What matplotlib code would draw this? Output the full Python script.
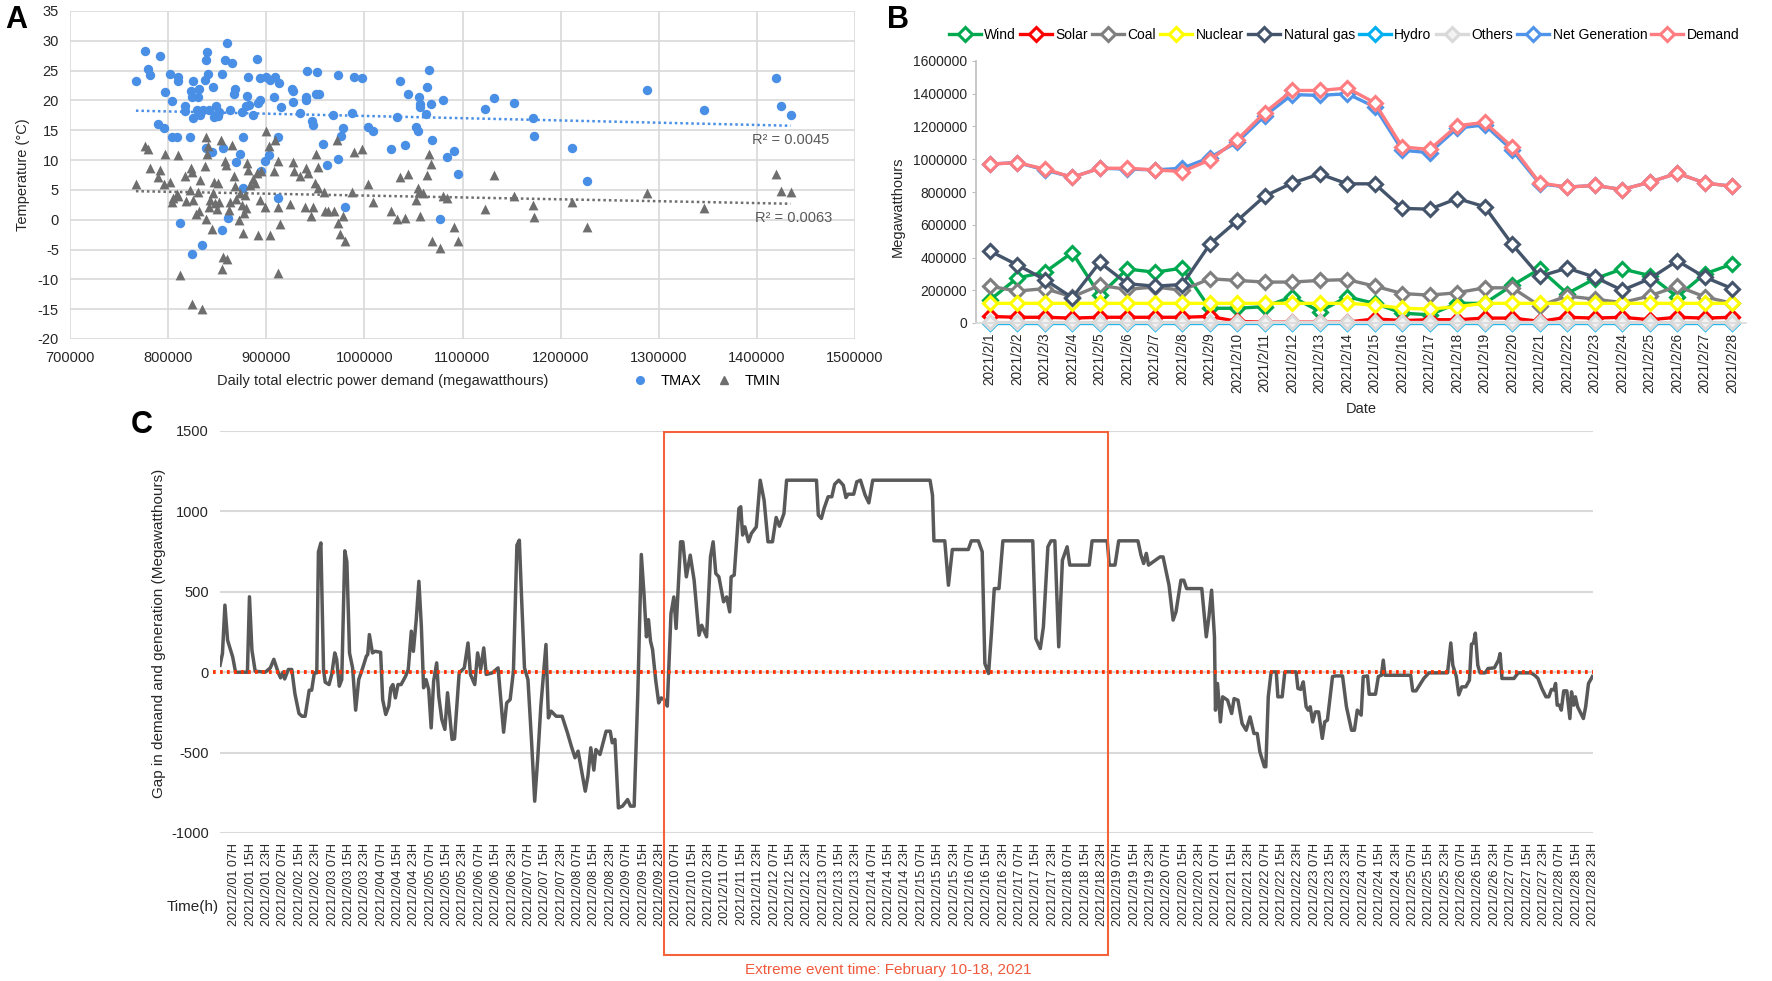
import numpy as np
import matplotlib
matplotlib.use("Agg")
import matplotlib.pyplot as plt
from matplotlib.patches import Rectangle
from matplotlib.lines import Line2D
from matplotlib.transforms import blended_transform_factory

plt.rcParams['font.family'] = ['Liberation Sans', 'DejaVu Sans']
plt.rcParams['axes.unicode_minus'] = False

# ---------------- Panel A data: daily demand vs temperature ----------------
TMAX_DEMAND = [767200, 776500, 779700, 781800, 791700, 796900, 790100, 795800, 802100, 803600,
               804200, 809400, 809900, 810400, 812500, 816700, 817000, 822400, 823400, 823900,
               825000, 825500, 824500, 830200, 831800, 829200, 832800, 834900, 835900, 837500,
               838500, 840100, 840500, 839000, 841700, 844300, 845800, 846400, 848400, 851000,
               852100, 854700, 855200, 856300, 857800, 860400, 860900, 863000, 865600, 867200,
               868200, 868800, 872900, 875500, 876000, 876600, 879700, 880700, 881800, 882300,
               887000, 890100, 891700, 893800, 894800, 894000, 899000, 900000, 902600, 904200,
               907800, 909400, 912000, 912000, 912500, 914600, 926600, 927100, 927600, 933900,
               940100, 941700, 941000, 946900, 947900, 951000, 952100, 953600, 958300, 961500,
               968200, 972900, 973400, 976000, 978100, 980200, 987500, 989100, 997900, 1004200,
               1008300, 1027600, 1032800, 1035900, 1041700, 1044800, 1052600, 1054200, 1055200, 1056300,
               1056800, 1062500, 1063500, 1065600, 1068200, 1069300, 1077100, 1080200, 1083900, 1091100,
               1095300, 1123400, 1132300, 1152600, 1171900, 1172400, 1211500, 1227100, 1288500, 1345800,
               1419800, 1425000, 1434400]
TMAX = [23.2, 28.3, 25.3, 24.3, 27.5, 21.4, 16.0, 15.4, 24.4, 19.9,
        13.8, 13.8, 23.9, 23.3, -0.6, 19.0, 18.2, 13.8, 21.6, 20.5,
        23.2, 17.0, -5.7, 20.5, 22.0, 18.4, 17.6, -4.2, 18.4, 23.5,
        26.7, 28.1, 24.4, 12.0, 18.4, 11.4, 22.2, 17.2, 19.0, 17.4,
        18.1, 24.4, -1.8, 12.0, 26.7, 29.6, 0.3, 18.4, 26.2, 21.0,
        21.9, 9.6, 11.0, 18.0, 5.3, 13.8, 19.0, 20.8, 24.0, 19.3,
        17.6, 27.0, 19.6, 20.1, 8.2, 23.7, 9.9, 24.0, 10.9, 23.4,
        20.5, 23.9, 13.8, 3.7, 23.0, 18.9, 22.0, 19.8, 21.6, 17.9,
        20.6, 25.0, 20.1, 16.5, 15.9, 21.0, 24.7, 21.1, 12.7, 9.1,
        17.6, 24.2, 10.1, 14.0, 15.4, 2.1, 17.9, 24.0, 23.8, 15.6,
        14.8, 11.9, 17.3, 23.3, 12.6, 21.0, 15.5, 14.8, 20.6, 19.4,
        18.9, 17.7, 22.3, 25.1, 19.4, 13.3, 0.1, 20.1, 10.6, 11.5,
        7.6, 18.5, 20.4, 19.5, 17.0, 14.1, 12.1, 6.5, 21.7, 18.4,
        23.8, 19.1, 17.5]

TMIN_DEMAND = [767200, 776500, 779200, 781800, 790100, 791700, 795800, 796400, 802100, 803600,
               805200, 809400, 809900, 810400, 812500, 816700, 818200, 822400, 823400, 824500,
               825000, 824500, 828600, 830200, 831800, 832800, 834400, 837500, 838500, 839000,
               839500, 840600, 841700, 842700, 844300, 845800, 846900, 847900, 849500, 850500,
               852100, 853600, 855200, 856300, 857800, 858900, 860400, 861900, 863000, 865100,
               866700, 867700, 868800, 871900, 872900, 875000, 876600, 877600, 878600, 879700,
               880700, 881800, 883300, 887000, 888500, 890100, 891700, 893200, 894800, 899000,
               900000, 902600, 903600, 907800, 908900, 912000, 912300, 912000, 914100, 924500,
               927100, 928100, 933900, 939600, 940600, 942200, 945300, 947400, 949500, 951000,
               952600, 953100, 958900, 959900, 962500, 969300, 971900, 973400, 975500, 978100,
               980200, 987500, 989100, 997900, 1004200, 1008300, 1027600, 1032800, 1035900, 1041700,
               1044800, 1052600, 1054200, 1055200, 1056300, 1059400, 1063500, 1065600, 1068200, 1069300,
               1077100, 1080200, 1083900, 1091100, 1095300, 1123400, 1132300, 1152600, 1171900, 1172400,
               1211500, 1227100, 1288500, 1345800, 1419800, 1425000, 1434400]
TMIN = [6.0, 12.3, 11.8, 8.6, 7.2, 8.4, 6.0, 11.1, 6.3, 2.9,
        3.7, 4.3, 10.8, 3.9, -9.3, 7.3, 3.2, 5.0, 8.6, 8.0,
        3.3, -14.2, 1.0, 4.7, 1.5, 6.7, -15.0, 9.0, 0.1, 13.8,
        11.0, 12.3, 2.1, 3.3, -1.6, 4.4, 6.3, 2.8, 1.8, 6.2,
        2.9, 13.4, -8.3, -6.3, 9.9, 9.2, -6.6, 1.7, 3.0, 12.5,
        7.3, 5.6, 3.5, 0.0, 4.4, 2.5, -2.3, 1.1, 4.2, 2.0,
        9.5, 8.4, 5.9, 6.8, 6.2, 7.8, -2.6, 3.3, 8.2, 2.1,
        14.9, 12.3, -2.5, 8.2, 13.4, 2.2, 9.9, -8.9, -0.7, 2.6,
        9.6, 8.2, 7.3, 2.1, 8.6, 7.8, 0.6, 2.1, 6.1, 11.1,
        8.9, 5.3, 4.7, 1.4, 1.4, 1.5, 13.4, -0.5, -2.4, 0.6,
        -3.5, 4.7, 11.4, 11.8, 6.0, 3.0, 1.4, 0.1, 7.2, 0.3,
        7.7, 3.3, 5.4, 4.6, 0.6, 4.4, 7.5, 11.1, 9.4, -3.5,
        -4.7, 3.9, 3.6, -1.3, -3.5, 1.8, 7.5, 3.9, 2.5, 0.5,
        2.9, -1.3, 4.4, 2.0, 7.7, 4.9, 4.6]

R2_TMAX = "R\u00b2 = 0.0045"
R2_TMIN = "R\u00b2 = 0.0063"

# ---------------- Panel B data: daily generation by source (Feb 2021) ----------------
DAYS = [f"2021/2/{d}" for d in range(1, 29)]
WIND = [140000, 275000, 310000, 430000, 170000, 330000, 310000, 335000, 90000, 90000,
        100000, 160000, 70000, 160000, 120000, 60000, 50000, 120000, 120000, 230000,
        330000, 180000, 270000, 330000, 290000, 160000, 300000, 360000]
SOLAR = [40000, 35000, 35000, 30000, 35000, 35000, 35000, 35000, 40000, 10000,
         5000, 5000, 5000, 5000, 25000, 15000, 20000, 20000, 30000, 30000,
         10000, 35000, 30000, 35000, 20000, 35000, 30000, 35000]
COAL = [225000, 195000, 210000, 160000, 230000, 205000, 220000, 200000, 270000, 260000,
        250000, 250000, 260000, 265000, 225000, 180000, 170000, 185000, 215000, 215000,
        105000, 165000, 145000, 125000, 165000, 225000, 160000, 120000]
NUCLEAR = [120000, 120000, 120000, 120000, 120000, 120000, 120000, 120000, 120000, 120000,
           120000, 120000, 120000, 120000, 110000, 90000, 85000, 100000, 120000, 120000,
           120000, 120000, 120000, 120000, 120000, 120000, 120000, 120000]
NATURAL_GAS = [440000, 355000, 265000, 155000, 370000, 240000, 225000, 235000, 480000, 625000,
               775000, 855000, 910000, 850000, 850000, 700000, 695000, 760000, 710000, 480000,
               285000, 335000, 280000, 200000, 270000, 380000, 280000, 210000]
HYDRO = [3000] * 28
OTHERS = [6000] * 28
NET_GENERATION = [970000, 980000, 935000, 890000, 945000, 940000, 935000, 945000, 1010000, 1105000,
                  1265000, 1395000, 1390000, 1400000, 1320000, 1055000, 1040000, 1190000, 1210000, 1055000,
                  850000, 830000, 840000, 815000, 860000, 915000, 855000, 835000]
DEMAND = [970000, 980000, 940000, 890000, 945000, 945000, 935000, 925000, 995000, 1120000,
          1285000, 1420000, 1420000, 1435000, 1345000, 1075000, 1060000, 1205000, 1225000, 1075000,
          855000, 830000, 840000, 815000, 860000, 915000, 855000, 835000]

# ---------------- Panel C data: hourly gap (hour 0 = 2021/2/01 00H) ----------------
GAP_HOURS = [0, 1.2, 2.4, 3.7, 6.2, 7.6, 13.4, 14.4, 15.6, 17.2, 22.1, 24.6, 26.3, 28.4, 29.6, 30.8,
             31.6, 33.4, 35.1, 36.6, 38.6, 40.1, 41.6, 43.6, 44.8, 46.1, 47.3, 48.1, 49.3, 50.6, 51.4,
             53.3, 54.6, 56.1, 57, 58.3, 59.5, 61, 62, 63.3, 64.8, 66.3, 67.8, 70, 71.5, 72.2, 73,
             74.5, 75.8, 78.5, 79.5, 81, 82.5, 83.5, 84.5, 85.7, 87, 88.5, 90.7, 92, 93.5, 94.5, 95.9,
             97.2, 98.4, 99.5, 100.7, 102, 103.2, 104.4, 105.9, 106.9, 108.4, 109.9, 111.2, 113.4,
             114.6, 116.9, 119.4, 121.2, 122.4, 124.5, 125.9, 127.4, 128.9, 130.1, 133.1, 135.9,
             137.1, 138.6, 140.1, 141.8, 143.4, 145.1, 146.3, 147.3, 148.8, 150.5, 152.3, 153.8,
             155.3, 156.8, 159.3, 160.5, 161.8, 164.3, 167.2, 169.8, 171.7, 173.5, 175, 176.3,
             178.5, 179.8, 181.2, 182.7, 183.7, 185.7, 188.7, 190.7, 191.7, 193, 194.7, 196.7,
             199.2, 200.6, 202.4, 204.2, 205.9, 207.2, 208.4, 209.4, 210.4, 211.4, 212.9, 214.4,
             215.6, 217.1, 218.6,
             220.4, 221.8, 222.9, 225.1, 226.2, 227.9, 229.8, 231.7, 234.1, 235.4, 237.8, 239.7,
             241, 242.3, 243.8, 246.1, 247.6, 249.1, 249.8, 251.3, 253.6, 254.5, 255.4, 256.5,
             258.3, 259.7, 262.1, 264, 265.9, 267.8, 270, 271.8, 273.4, 275.6, 276.9, 291.5, 292.4,
             293.9, 295.2, 297.2, 299, 300.4, 302.4, 304.6, 305.9, 307, 309.7, 311.2, 313, 315.3,
             317.1, 319, 347, 348.2, 348.9, 354.2, 356, 357.9, 365.7, 367.2, 370.6, 372.5, 373.8,
             375.6, 377, 378.4, 380.7, 382.6, 397.2, 398.7, 400.9, 402.4, 404.6, 406.1, 408, 409.9,
             411.7, 414, 415.3, 424.8, 426.2, 433.6, 434.6, 437.4, 439.2, 448.6, 450.1, 451.4,
             452.7, 453.8,
             459.4, 460.9, 463.8, 465.8, 467.2, 469.6, 471, 472.4, 479.8, 482, 483.3, 484.6, 486,
             486.5, 487.5, 488.9, 490, 492.4, 494.4, 495.6, 497.5, 499.5, 501.5, 503.4, 505.3,
             506.9, 508.2, 510.4, 511.1, 512.3, 513.7, 516.2, 517, 519.1, 520.4, 525.9, 526.8,
             528.2, 529.4, 530.8, 531.8, 532.8, 534, 535.3, 536.9, 538.7, 539.9, 541.2, 543.7,
             545.3, 548.6, 550.5, 553, 554.4, 555.8, 557.7, 558.7, 560.8, 561.6, 564.7, 566.1,
             567.6, 568.5, 569.3, 581.9, 582.9, 584.5, 588.3, 590.8, 599.9, 601.5, 602.5, 604.2,
             605.4, 606.9, 608.8, 610.6, 611.6, 612.6, 613.5, 614.7, 615.8, 618.3, 619.7, 622.8,
             624.8, 625.6, 626.5, 632.4, 634.4, 640.6, 642.5, 644.1, 646, 648, 649.4, 650.7, 651.9,
             652.7, 653.5, 654.6, 655.5, 656.7, 658.2, 659.7, 660.5, 661.6, 662.4, 663.5, 666.3,
             667.4, 668.8, 670.7]
GAP = [43, 116, 417, 199, 95, 0, 0, 469, 137, 6, 0, 27, 80, 0, -35, 0,
       -42, 17, 17, -133, -257, -274, -274, -112, -112, -4, -4, 748, 804, 17, -62,
       -77, -14, 120, 80, -87, -46, 755, 686, 120, 27, -236, -46, 37, 99, 110, 234,
       120, 130, 124, -170, -263, -211, -97, -77, -160, -77, -77, -25, 17, 255, 130, 327,
       565, 286, -97, -46, -108, -346, -56, 58, -149, -294, -356, -128, -418,
       -414, -4, 27, 182, -14, -77, 120, 17, 151, -14, -4, 27,
       -149, -373, -191, -170, 6, 790, 821, 489, 27, -46, -439, -802,
       -532, -211, 172, -284, -242, -274, -274, -377, -460, -532, -491, -584,
       -740, -647, -470, -609, -481, -512, -367, -367, -439, -418, -844, -833,
       -792, -833, -833, -128, 732, 489, 220, 327, 193, 141, -46, -191,
       -160, -170, -211,
       365, 468, 272, 811, 811, 593, 728, 573, 230, 292, 220, 717,
       811, 614, 593, 438, 468, 375, 593, 604, 1018, 1029, 853, 904,
       811, 863, 904, 1194, 1070, 811, 811, 962, 908, 987, 1194, 1194, 977,
       956, 1018, 1091, 1091, 1169, 1194, 1163, 1086, 1107, 1107, 1184, 1194, 1101,
       1053, 1194, 1194, 1101, 817, 817, 541, 763, 763, 817, 817, 749, 54,
       -8, 240, 520, 520, 817, 817, 209, 147, 282, 780, 817, 817, 158,
       697, 780, 666, 666, 817, 817, 666, 666, 817, 817, 728, 676,
       739, 666,
       717, 717, 541, 324, 375, 572, 572, 520, 520, 220, 344, 510, 220,
       -236, -70, -309, -153, -174, -257, -164, -174, -319, -361, -278, -381,
       -381, -495, -588, -588, -153, 2, 2, -153, -153, 2, 2, -101,
       -107, -60, -215, -236, -215, -309, -247, -247, -412, -309, -298, -27,
       -23, -23, -215, -361, -361, -236, -267, -27, -23, -137, -137, -27,
       -19, 75, -19, -19, -116, -116, -39, -4, -4, 182, 43, -27,
       -141, -91, -91, -50, 174, 182, 243, 43, -4, -4, 23, 27,
       75, 116, -39, -39, -4, -4, -19, -39, -101, -153, -153, -107, -110,
       -70, -205, -205, -236, -116, -116, -288, -122, -205, -153, -216, -288,
       -216, -70, -27]
EVENT_START, EVENT_END = 217, 434
EVENT_TEXT = "Extreme event time: February 10-18, 2021"

# ---------------- layout helpers (pixel positions in the 1772x981 canvas) ----------------
W, H = 1772, 981


def fx(x):
    return x / W


def fy(y):
    return 1 - y / H


def box(l, t, r, b):
    return [fx(l), fy(b), (r - l) / W, (b - t) / H]


fig = plt.figure(figsize=(W / 100, H / 100), dpi=100)
GRID = '#d9d9d9'
TXT = '#262626'

# ======================= Panel A =======================
axA = fig.add_axes(box(70, 11, 855, 339))
c_max, c_min = '#4a8fe6', '#6e6e6e'
axA.scatter(TMAX_DEMAND, TMAX, s=46, color=c_max, zorder=3, linewidths=0)
axA.scatter(TMIN_DEMAND, TMIN, s=50, marker='^', color=c_min, zorder=3, linewidths=0)
for xs, ys, c in [(TMAX_DEMAND, TMAX, c_max), (TMIN_DEMAND, TMIN, c_min)]:
    k, b0 = np.polyfit(xs, ys, 1)
    xx = np.array([min(xs), max(xs)])
    axA.plot(xx, k * xx + b0, linestyle=(0, (1, 1.2)), color=c, lw=1.8, zorder=2)
axA.set_xlim(700000, 1500000)
axA.set_ylim(-20, 35)
axA.set_xticks(np.arange(700000, 1500001, 100000))
axA.set_yticks(np.arange(-20, 36, 5))
axA.ticklabel_format(style='plain', useOffset=False)
axA.grid(True, color=GRID, lw=1.2)
axA.set_axisbelow(True)
for s in axA.spines.values():
    s.set_visible(False)
axA.tick_params(length=0, labelsize=10.5, colors=TXT)
axA.tick_params(axis='y', pad=8)
axA.tick_params(axis='x', pad=9)
fig.text(fx(752), fy(140), R2_TMAX, fontsize=10.5, color='#595959', va='center')
fig.text(fx(755), fy(218), R2_TMIN, fontsize=10.5, color='#595959', va='center')
fig.text(fx(23), fy(175), "Temperature (\u00b0C)", rotation=90, ha='center', va='center',
         fontsize=10.5, color=TXT)
fig.text(fx(383), fy(381), "Daily total electric power demand (megawatthours)", ha='center',
         va='center', fontsize=10.5, color=TXT)
legA = [Line2D([], [], ls='none', marker='o', ms=5.5, color=c_max, label='TMAX'),
        Line2D([], [], ls='none', marker='^', ms=5.5, color=c_min, label='TMIN')]
fig.legend(handles=legA, loc='center', bbox_to_anchor=(fx(706), fy(381)), ncol=2, frameon=False,
           fontsize=10.5, handlelength=1.2, handletextpad=0.8, columnspacing=1.0)
fig.text(fx(5), fy(20), "A", fontsize=22, fontweight='bold', va='center')

# ======================= Panel B =======================
axB = fig.add_axes(box(976, 61, 1746, 323))
series_b = [("Wind", WIND, '#00a84f'), ("Solar", SOLAR, '#ff0000'), ("Coal", COAL, '#7f7f7f'),
            ("Nuclear", NUCLEAR, '#ffff00'), ("Natural gas", NATURAL_GAS, '#44546a'),
            ("Hydro", HYDRO, '#00b0f0'), ("Others", OTHERS, '#d9d9d9'),
            ("Net Generation", NET_GENERATION, '#4f94e8'), ("Demand", DEMAND, '#ff7c80')]
xb = np.arange(len(DAYS))
for name, vals, col in series_b:
    face = '#f2f2f2' if name == "Others" else 'white'
    axB.plot(xb, vals, color=col, lw=2.4, marker='D', ms=7.5, mfc=face, mec=col, mew=2.2,
             label=name, clip_on=False)
axB.set_xlim(-0.5, 27.5)
axB.set_ylim(0, 1600000)
axB.set_yticks(np.arange(0, 1600001, 200000))
axB.ticklabel_format(axis='y', style='plain', useOffset=False)
axB.set_xticks(xb)
axB.set_xticklabels(DAYS, rotation=90, fontsize=9.8)
axB.tick_params(axis='y', labelsize=10, length=3, color='#bfbfbf', colors=TXT)
axB.tick_params(axis='x', length=0, pad=7, colors=TXT)
for s in ['top', 'right']:
    axB.spines[s].set_visible(False)
axB.spines['left'].set_color('#bfbfbf')
axB.spines['bottom'].set_color(GRID)
axB.spines['left'].set_linewidth(1.2)
axB.spines['bottom'].set_linewidth(1.2)
fig.legend(*axB.get_legend_handles_labels(), loc='center', bbox_to_anchor=(fx(1344), fy(35)),
           ncol=9, frameon=False, fontsize=10, handlelength=2.3, handletextpad=0.25,
           columnspacing=0.3, borderpad=0, borderaxespad=0)
fig.text(fx(898), fy(207), "Megawatthours", rotation=90, ha='center', va='center',
         fontsize=10.5, color=TXT)
fig.text(fx(1361), fy(409), "Date", ha='center', va='center', fontsize=10.5, color=TXT)
fig.text(fx(887), fy(20), "B", fontsize=22, fontweight='bold', va='center')

# ======================= Panel C =======================
axC = fig.add_axes(box(220, 431, 1593, 833))
axC.plot(GAP_HOURS, GAP, color='#595959', lw=2.5, zorder=3)
axC.axhline(0, xmin=-0.005, color='#ff3300', lw=2.8, linestyle=(0, (0.7, 1.1)), zorder=4,
            clip_on=False)
axC.set_xlim(0, 671)
axC.set_ylim(-1000, 1500)
axC.set_yticks(np.arange(-1000, 1501, 500))
tick_hours = list(range(7, 672, 8))
tick_labels = [f"2021/2/{h // 24 + 1:02d} {h % 24:02d}H" for h in tick_hours]
axC.set_xticks(tick_hours)
axC.set_xticklabels(tick_labels, rotation=90, fontsize=9.1)
axC.grid(True, axis='y', color=GRID, lw=1.5)
axC.set_axisbelow(True)
for s in axC.spines.values():
    s.set_visible(False)
axC.tick_params(length=0, colors=TXT)
axC.tick_params(axis='y', labelsize=10.5, pad=8)
axC.tick_params(axis='x', pad=7)

trans = blended_transform_factory(axC.transData, fig.transFigure)
rect = Rectangle((EVENT_START, fy(955)), EVENT_END - EVENT_START, fy(432) - fy(955),
                 transform=trans, fill=False, edgecolor='#f4623a', lw=1.5, clip_on=False)
fig.add_artist(rect)
fig.text(fx(888), fy(970), EVENT_TEXT, ha='center', va='center', fontsize=11, color='#f05a3c')
fig.text(fx(193), fy(907), "Time(h)", ha='center', va='center', fontsize=11, color=TXT)
fig.text(fx(159), fy(633), "Gap in demand and generation (Megawatthours)", rotation=90,
         ha='center', va='center', fontsize=11, color=TXT)
fig.text(fx(131), fy(425), "C", fontsize=22, fontweight='bold', va='center')

fig.savefig("out.png", dpi=100)
